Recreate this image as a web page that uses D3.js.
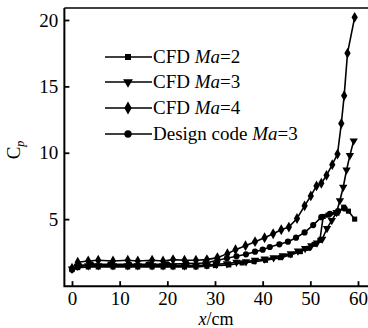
<!DOCTYPE html>
<html lang="en">
<head>
<meta charset="UTF-8">
<title>Cp vs x</title>
<script src="https://d3js.org/d3.v7.min.js"></script>
<style>
  body { margin: 0; background: #fff; }
  svg, svg text { font-family: "Liberation Serif", "Times New Roman", Tinos, "DejaVu Serif", serif; }
  .curve { fill: none; stroke: #000; stroke-width: 1.6px; }
</style>
</head>
<body>
<svg width="368" height="328"></svg>
<script>
// CFD Ma=2 (squares)
const xMa2 = [0, 1.2, 3.4, 5.5, 8.6, 11.7, 13.8, 16.8, 19.1, 21.2, 23.6, 26, 28.3, 30.1, 32.9, 35.7, 38.2, 40.6, 43.7, 45.8, 47.9, 49.6, 50.8, 52, 52.7, 53.7, 55.6, 57, 58, 59.3];
const yMa2 = [1.2, 1.35, 1.4, 1.4, 1.4, 1.4, 1.4, 1.4, 1.4, 1.4, 1.4, 1.4, 1.45, 1.5, 1.55, 1.7, 1.8, 1.9, 2.1, 2.3, 2.55, 2.8, 3.1, 3.4, 5.2, 5.3, 5.45, 5.9, 5.6, 5.0];
// CFD Ma=3 (down triangles)
const xMa3 = [0, 1.2, 3.4, 5.5, 8.6, 11.7, 13.8, 16.8, 19.1, 21.2, 23.6, 26, 28.3, 30.3, 32.5, 34.5, 36.5, 38.4, 40.4, 42.3, 44.2, 45.9, 47.4, 48.9, 50.2, 51.4, 52.5, 53.5, 54.5, 55.5, 56.2, 56.9, 57.6, 58.3, 59.1];
const yMa3 = [1.25, 1.45, 1.5, 1.5, 1.5, 1.5, 1.5, 1.5, 1.5, 1.5, 1.5, 1.5, 1.55, 1.6, 1.65, 1.75, 1.8, 1.9, 2.0, 2.1, 2.25, 2.4, 2.6, 2.8, 3.0, 3.2, 3.5, 4.3, 4.9, 5.5, 6.4, 7.4, 8.7, 9.8, 10.9];
// CFD Ma=4 (diamonds)
const xMa4 = [0, 1.2, 3.4, 5.5, 8.6, 11.7, 13.8, 16.8, 19.1, 21.2, 23.6, 26, 28.3, 30.5, 32.6, 34.3, 36.4, 38.4, 40.4, 42.2, 43.9, 45.5, 47.2, 48.8, 50.1, 51.3, 52.3, 53.4, 54.6, 55.7, 56.5, 57.1, 57.8, 59.3];
const yMa4 = [1.3, 1.75, 1.85, 1.9, 1.85, 1.9, 1.85, 1.9, 1.85, 1.95, 1.9, 1.9, 1.95, 2.1, 2.4, 2.7, 3.0, 3.3, 3.6, 3.9, 4.2, 4.4, 5.05, 6.0, 6.75, 7.5, 7.7, 8.3, 9.1, 9.9, 12.2, 14.3, 17.5, 20.2];
// Design code Ma=3 (circles)
const xDes = [0, 1.5, 4, 8, 12, 16, 20, 24, 28, 30.5, 32.5, 34.5, 36.5, 38.4, 40, 41.5, 43.5, 45.3, 47, 48.8, 50.6, 52.3, 54.1, 55.8, 57.2];
const yDes = [1.2, 1.5, 1.6, 1.6, 1.6, 1.6, 1.6, 1.65, 1.7, 1.9, 2.05, 2.2, 2.35, 2.55, 2.7, 2.9, 3.1, 3.3, 3.6, 4.0, 4.55, 5.15, 5.4, 5.6, 5.8];

const xTicks = [0, 10, 20, 30, 40, 50, 60];
const yTicks = [5, 10, 15, 20];
const legendLabels = ["Ma=2", "Ma=3", "Ma=4", "Ma=3"];
const legendPrefix = ["CFD ", "CFD ", "CFD ", "Design code "];

const FONT = "'Liberation Serif', 'Times New Roman', Tinos, 'DejaVu Serif', serif";
const svg = d3.select("svg");
const x = d3.scaleLinear().domain([0, 60]).range([72, 358]);
const y = d3.scaleLinear().domain([0, 20]).range([285.5, 20]);
const x0 = x(-1.6), xEnd = 368;
const yBot = y(-0.05), yTop = y(20.9);

const series = [
  { xs: xMa2, ys: yMa2, sym: d3.symbolSquare, size: 26 },
  { xs: xMa3, ys: yMa3, sym: d3.symbolTriangle, size: 30, flip: true },
  { xs: xMa4, ys: yMa4, sym: d3.symbolDiamond, size: 34 },
  { xs: xDes, ys: yDes, sym: d3.symbolCircle, size: 30 }
];

const line = d3.line().x(d => x(d[0])).y(d => y(d[1]));

// axes
const gx = svg.append("g").attr("transform", `translate(0,${yBot})`)
  .call(d3.axisBottom(x).tickValues(xTicks).tickSizeInner(-5).tickSizeOuter(0).tickPadding(5));
gx.select(".domain").remove();
const gy = svg.append("g").attr("transform", `translate(${x0},0)`)
  .call(d3.axisLeft(y).tickValues(yTicks).tickSizeInner(-5).tickSizeOuter(0).tickPadding(6));
gy.select(".domain").remove();
svg.selectAll("g").attr("font-family", FONT);
svg.selectAll(".tick line").attr("stroke", "#000").attr("stroke-width", 1.8);
svg.selectAll(".tick text").attr("font-family", FONT).attr("font-size", 19).attr("fill", "#000");

svg.append("path").attr("d", `M${x0},${yTop}V${yBot}H${xEnd}`)
  .attr("fill", "none").attr("stroke", "#000").attr("stroke-width", 2);
svg.append("line").attr("x1", x0).attr("x2", xEnd).attr("y1", yTop).attr("y2", yTop)
  .attr("stroke", "#000").attr("stroke-width", 1.6);

// curves
series.forEach(s => {
  const pts = s.xs.map((v, i) => [v, s.ys[i]]);
  svg.append("path").datum(pts).attr("class", "curve").attr("d", line);
  svg.append("g").selectAll("path").data(pts).join("path")
    .attr("d", d3.symbol(s.sym, s.size))
    .attr("transform", d => `translate(${x(d[0])},${y(d[1])})${s.flip ? " rotate(180)" : ""}`)
    .attr("fill", "#000");
});

// legend
const legY = [57, 82, 108, 134];
series.forEach((s, i) => {
  const g = svg.append("g").attr("transform", `translate(0,${legY[i]})`);
  g.append("line").attr("x1", 105).attr("x2", 152).attr("stroke", "#000").attr("stroke-width", 1.6);
  g.append("path").attr("d", d3.symbol(s.sym, s.size * 1.4))
    .attr("transform", `translate(128,0)${s.flip ? " rotate(180)" : ""}`);
  const t = g.append("text").attr("x", 153).attr("y", 6).attr("font-size", 19).attr("font-family", FONT);
  t.append("tspan").text(legendPrefix[i]);
  t.append("tspan").attr("font-style", "italic").text(legendLabels[i].slice(0, 2));
  t.append("tspan").text(legendLabels[i].slice(2));
});

// axis titles
const xt = svg.append("text").attr("x", 216).attr("y", 325).attr("text-anchor", "middle")
  .attr("font-size", 18).attr("font-family", FONT);
xt.append("tspan").attr("font-style", "italic").text("x");
xt.append("tspan").text("/cm");

const yt = svg.append("text").attr("transform", "translate(20,150) rotate(-90)")
  .attr("text-anchor", "middle").attr("font-size", 19).attr("font-family", FONT);
yt.append("tspan").text("C");
yt.append("tspan").attr("font-style", "italic").attr("font-size", 12).attr("dy", 4).text("p");
</script>
</body>
</html>
